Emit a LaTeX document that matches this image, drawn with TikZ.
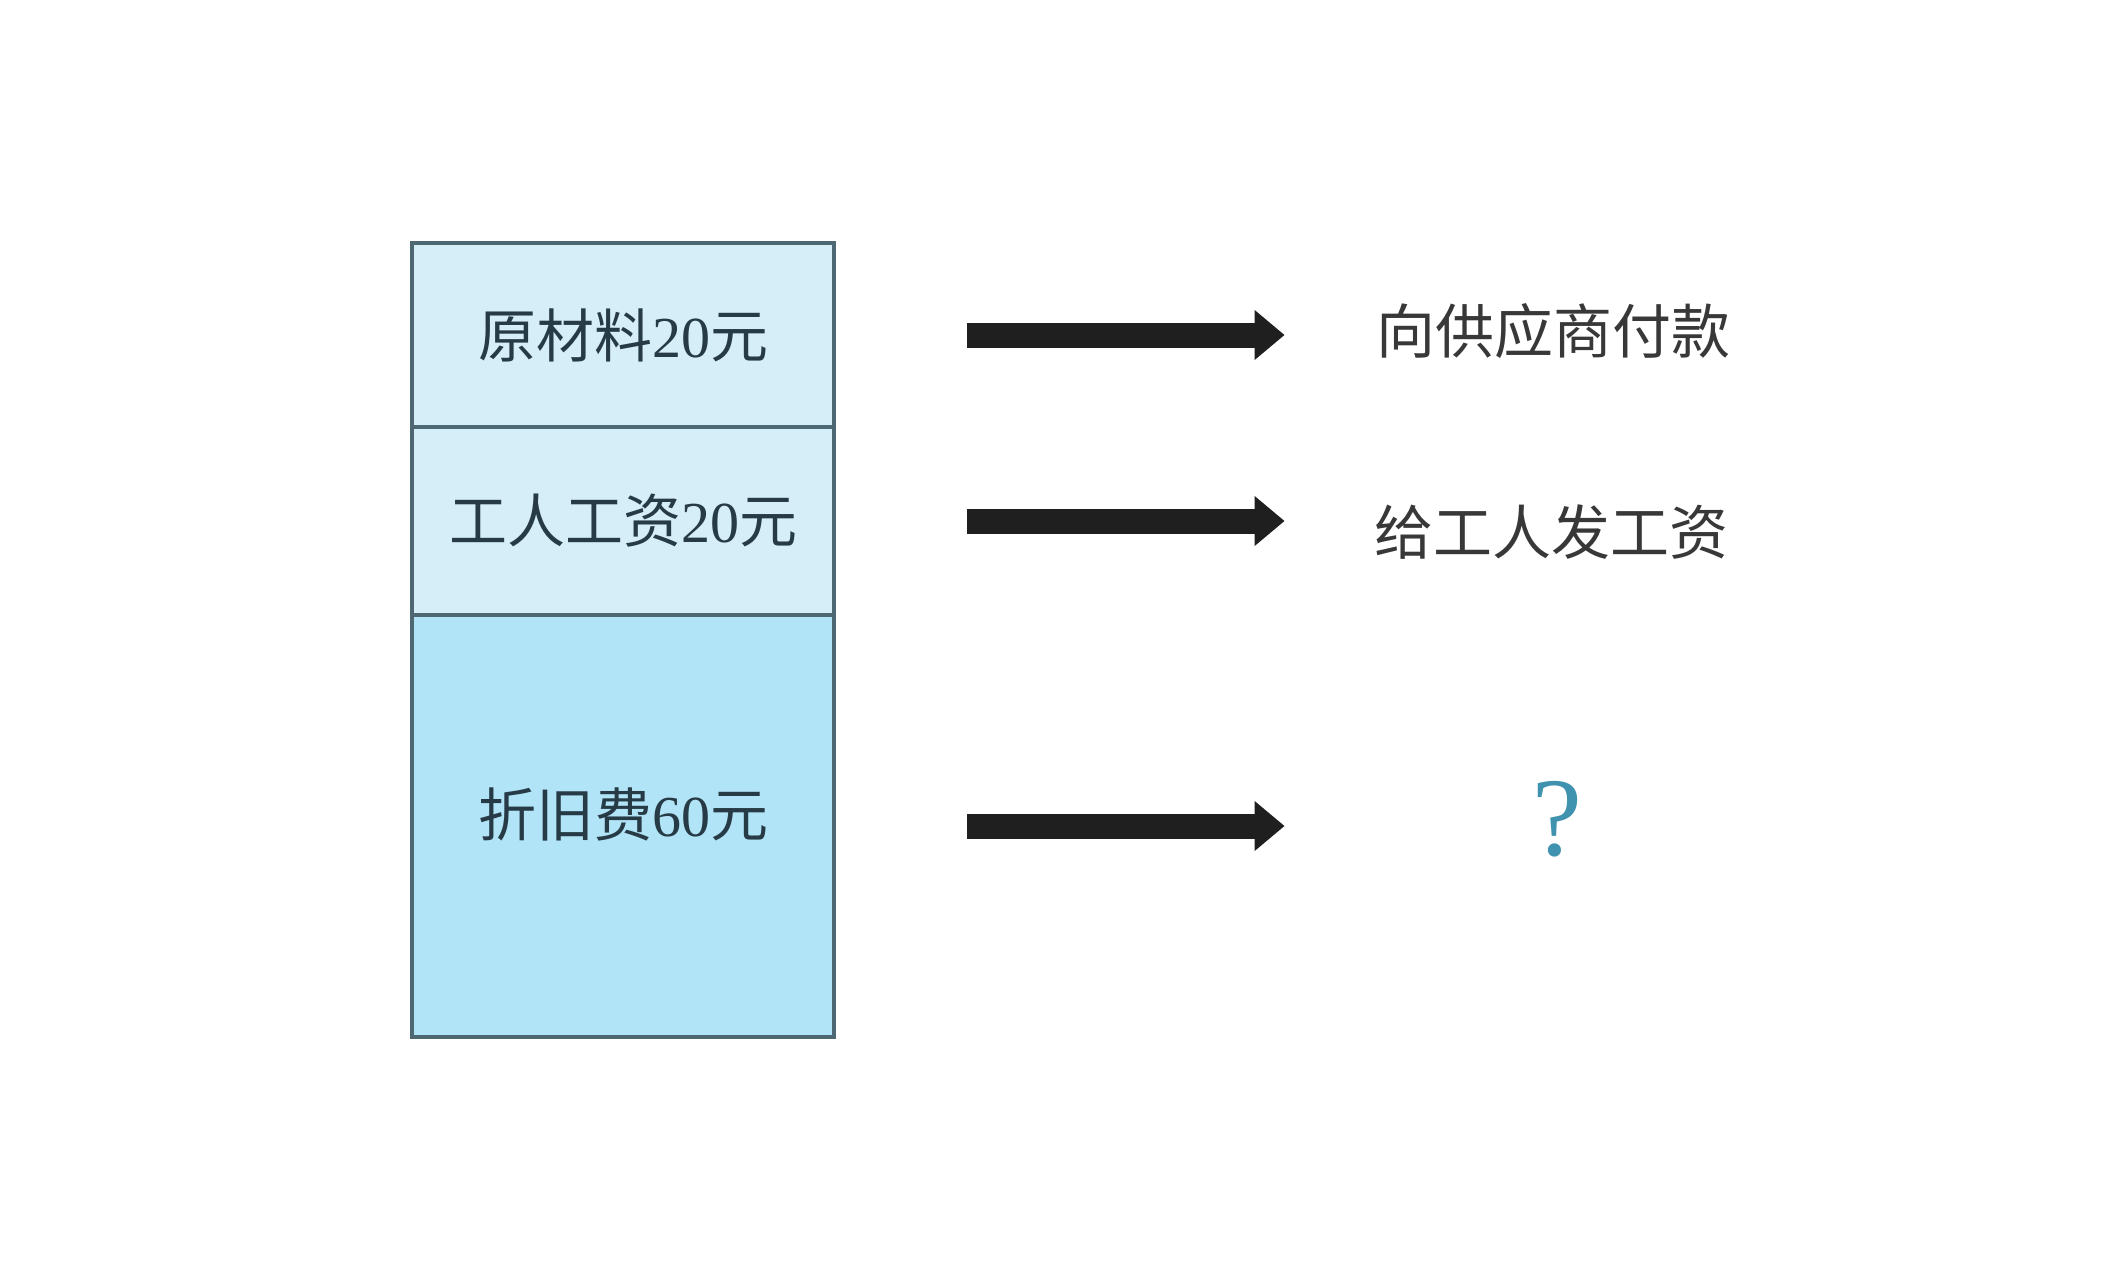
\documentclass[tikz,border=0pt]{standalone}
\usepackage{fontspec}
\setmainfont{Liberation Serif}
\newfontfamily\cjk{Noto Sans CJK SC}
\usetikzlibrary{arrows.meta}
\definecolor{lightrow}{HTML}{D6EEF8}
\definecolor{darkrow}{HTML}{B2E4F7}
\definecolor{edgecol}{HTML}{4E6873}
\definecolor{boxtext}{HTML}{263B45}
\definecolor{outcol}{HTML}{383838}
\definecolor{qcol}{HTML}{3F93AE}
\begin{document}
\begin{tikzpicture}[x=0.5pt,y=-0.5pt,
  rowbox/.style={draw=edgecol, line width=2pt, minimum width=211pt, inner sep=0pt,
    anchor=north west, text=boxtext, font=\fontsize{29}{29}\selectfont},
  bigarrow/.style={line width=12.5pt, -{Triangle[width=24pt,length=15pt]}, draw=black!88},
  outtext/.style={text=outcol, font=\cjk\fontsize{29.5}{29.5}\selectfont, inner sep=0pt}]
\useasboundingbox (0,0) rectangle (2112,1280);
\fill[white] (0,0) rectangle (2112,1280);
\node[rowbox, fill=lightrow, minimum height=92pt] (r1) at (410,241) {\raisebox{2pt}{{\cjk 原材料}20{\cjk 元}}};
\node[rowbox, fill=lightrow, minimum height=94pt] (r2) at (410,425) {{\cjk 工人工资}20{\cjk 元}};
\node[rowbox, fill=darkrow, minimum height=211pt] (r3) at (410,613) {\raisebox{14pt}{{\cjk 折旧费}60{\cjk 元}}};
\node[outtext] (t1) at (1553,331) {向供应商付款};
\node[outtext] (t2) at (1551,532) {给工人发工资};
\node[text=qcol, inner sep=0pt, font=\fontsize{56}{56}\selectfont] (q) at (1557,819) {?};
\draw[bigarrow] ([xshift=65.5pt]r1.east) -- ([xshift=-45.5pt]r1.east -| t1.west);
\draw[bigarrow] ([xshift=65.5pt]r2.east) -- ([xshift=-45.5pt]r2.east -| t1.west);
\draw[bigarrow] ([xshift=65.5pt]r3.east) -- ([xshift=-45.5pt]r3.east -| t1.west);
\end{tikzpicture}
\end{document}
